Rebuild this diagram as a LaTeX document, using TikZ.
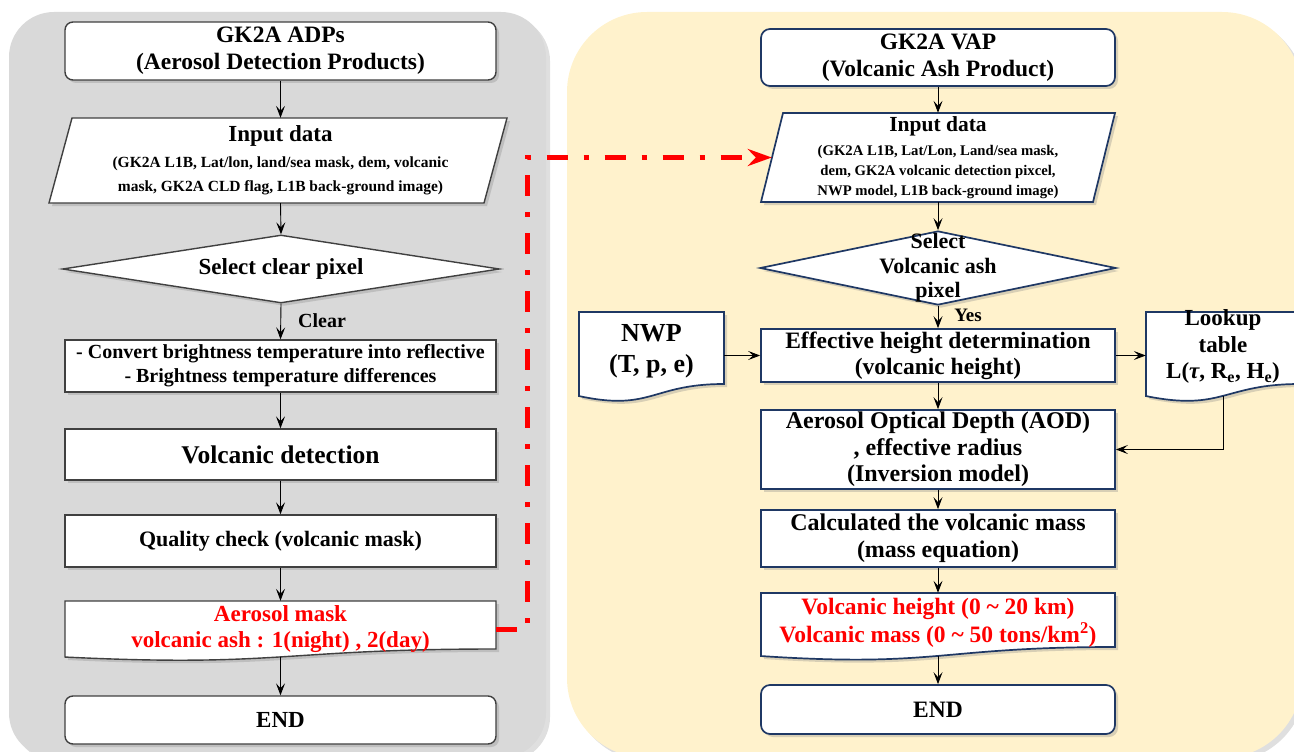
\documentclass[tikz,border=0pt]{standalone}
\usepackage{fontspec}
\setmainfont{Liberation Serif}
\usetikzlibrary{arrows.meta,shapes.geometric,shadows,calc}
\definecolor{panelgray}{HTML}{D9D9D9}
\definecolor{panelcream}{HTML}{FFF2CC}
\definecolor{navy}{HTML}{1F3864}
\definecolor{lgray}{HTML}{404040}
\newcommand\fs[2]{\fontsize{#1}{#2}\selectfont}
\newcommand\lift[2]{\raisebox{#1}[\height][\depth]{\begin{tabular}{@{}c@{}}#2\end{tabular}}}
% document shape: left, top, right, H, style
\newcommand\docshape[5]{%
  \draw[#5] (#1,#2) -- (#3,#2) -- (#3,{#2+0.8*#4})
    .. controls ({(#1+#3)/2},{#2+0.8*#4}) and ({(#1+#3)/2},{#2+1.107*#4}) .. (#1,{#2+0.934*#4}) -- cycle;}
\begin{document}
\begin{tikzpicture}[x=1pt,y=-1pt,
  ds/.style={drop shadow={opacity=0.3,shadow xshift=3pt,shadow yshift=-3pt}},
  flow/.style={draw=black,line width=0.9pt,-{Stealth[length=12pt,width=9pt,inset=5pt]}},
  redflow/.style={draw=red,line width=5pt,dash pattern=on 21pt off 16pt on 5pt off 16pt,
     -{Stealth[length=24pt,width=17pt,inset=8pt]}},
  lpath/.style={draw=lgray,line width=1.4pt,fill=white,ds},
  rpath/.style={draw=navy,line width=1.7pt,fill=white,ds},
  lbox/.style={lpath,minimum width=431pt,inner sep=0pt,align=center},
  rbox/.style={rpath,minimum width=354pt,inner sep=0pt,align=center},
  free/.style={draw=none,fill=none,inner sep=0pt,align=center}]
\clip (0,0) rectangle (1294,752);
% panels
\path[fill=panelgray,rounded corners=45pt,drop shadow={opacity=0.25,shadow xshift=4pt,shadow yshift=-4pt}] (9,12) rectangle (546,758);
\path[fill=panelcream,rounded corners=80pt,drop shadow={opacity=0.25,shadow xshift=4pt,shadow yshift=-4pt}] (567,12) rectangle (1302,758);

% ---------------- left column ----------------
\node[lbox,rounded corners=8pt,minimum height=58pt,font=\bfseries\fs{23.5}{27}] (adp) at (280.5,51)
  {GK2A ADPs\\(Aerosol Detection Products)};
\draw[lpath] (72,118) -- (507,118) -- (484,203) -- (49,203) -- cycle;
\node[free,minimum width=431pt,minimum height=85pt,font=\bfseries\fs{15.5}{24}] (in1) at (280.5,160.5)
  {{\fs{23}{26}Input data}\\[2pt](GK2A L1B, Lat/lon, land/sea mask, dem, volcanic\\mask, GK2A CLD flag, L1B back-ground image)};
\node[diamond,draw=lgray,line width=1.4pt,fill=white,ds,minimum width=437pt,minimum height=68pt,
  aspect=6.4,inner sep=0pt,font=\bfseries\fs{23}{26}] (sel1) at (281,269) {Select clear pixel};
\node[inner sep=0pt,font=\bfseries\fs{20}{24}] (clr) at (322,321) {Clear};
\node[lbox,minimum height=52pt,font=\bfseries\fs{20}{24}] (conv) at (280.5,366)
  {- Convert brightness temperature into reflective\\- Brightness temperature differences};
\node[lbox,minimum height=51pt,font=\bfseries\fs{25.5}{28}] (det) at (280.5,454.5) {Volcanic detection};
\node[lbox,minimum height=52pt,font=\bfseries\fs{22}{26}] (qual) at (280.5,541) {Quality check (volcanic mask)};
\docshape{65}{601}{496}{60}{lpath}
\node[free,minimum width=431pt,minimum height=56pt,text=red,font=\bfseries\fs{23}{26}] (mask) at (280.5,629)
  {\lift{0pt}{Aerosol mask\\volcanic ash : 1(night) , 2(day)}};
\node[lbox,rounded corners=8pt,minimum height=48pt,font=\bfseries\fs{23}{26}] (end1) at (280.5,720) {END};

\draw[flow] (adp.south) -- (in1.north);
\draw[flow] (in1.south) -- (sel1.north);
\draw[flow] (sel1.south) -- (conv.north);
\draw[flow] (conv.south) -- (det.north);
\draw[flow] (det.south) -- (qual.north);
\draw[flow] (qual.south) -- (mask.north);
\draw[flow] (mask.south) -- (end1.north);

% ---------------- right column ----------------
\node[rbox,rounded corners=9pt,minimum height=57pt,font=\bfseries\fs{23.5}{27}] (vap) at (938,57.5)
  {GK2A VAP\\(Volcanic Ash Product)};
\draw[rpath] (783,113) -- (1115,113) -- (1093,202) -- (761,202) -- cycle;
\node[free,minimum width=354pt,minimum height=89pt,font=\bfseries\fs{14.7}{20}] (in2) at (938,157.5)
  {{\fs{21.5}{26}Input data}\\[4pt](GK2A L1B, Lat/Lon, Land/sea mask,\\dem, GK2A volcanic detection pixcel,\\NWP model, L1B back-ground image)};
\node[diamond,draw=navy,line width=1.7pt,fill=white,ds,minimum width=356pt,minimum height=74pt,
  aspect=4.8,inner sep=0pt,
  label={[font=\bfseries\fs{22}{24.5},align=center]center:Select\\Volcanic ash\\pixel}] (sel2) at (938,268) {};
\node[inner sep=0pt,font=\bfseries\fs{19}{22}] (yes) at (968,315) {Yes};
\node[rbox,minimum height=53pt,font=\bfseries\fs{23.5}{26}] (eff) at (938,355.5)
  {Effective height determination\\(volcanic height)};
\docshape{579}{312}{724}{90}{rpath}
\node[free,minimum width=145pt,minimum height=84pt,font=\bfseries\fs{26}{31}] (nwp) at (651.5,354)
  {\lift{3.5pt}{NWP\\(T, p, e)}};
\docshape{1146}{312}{1300}{90}{rpath}
\node[free,minimum width=154pt,minimum height=84pt,font=\bfseries\fs{23}{26.5}] (lut) at (1223,354)
  {\lift{7pt}{Lookup\\table\\L({\itshape τ}, R\textsubscript{e}, H\textsubscript{e})}};
\node[rbox,minimum height=79pt,font=\bfseries\fs{24}{26.5}] (aod) at (938,449.5)
  {Aerosol Optical Depth (AOD)\\, effective radius\\(Inversion model)};
\node[rbox,minimum height=57pt,font=\bfseries\fs{24}{27}] (calc) at (938,538.5)
  {Calculated the volcanic mass\\(mass equation)};
\docshape{761}{593}{1115}{67.5}{rpath}
\node[free,minimum width=354pt,minimum height=63pt,text=red,font=\bfseries\fs{23.5}{27}] (out) at (938,624.5)
  {\lift{1pt}{Volcanic height (0 \textasciitilde{} 20 km)\\Volcanic mass (0 \textasciitilde{} 50 tons/km\textsuperscript{2})}};
\node[rbox,rounded corners=9pt,minimum height=49pt,font=\bfseries\fs{23.5}{26}] (end2) at (938,709.5) {END};

\draw[flow] (vap.south) -- (in2.north);
\draw[flow] (in2.south) -- (sel2.north);
\draw[flow] (sel2.south) -- (eff.north);
\draw[flow] (nwp.east |- eff.west) -- (eff.west);
\draw[flow] (eff.east) -- (eff.east -| lut.west);
\draw[flow] (eff.south) -- (aod.north);
\draw[flow] (lut.south) |- (aod.east);
\draw[flow] (aod.south) -- (calc.north);
\draw[flow] (calc.south) -- (out.north);
\draw[flow] (out.south) -- (end2.north);

% ---------------- red link ----------------
\coordinate (rc) at (527,157.5);
\draw[redflow] (mask.east) -| (rc) -- ([xshift=11pt]in2.west);
\end{tikzpicture}
\end{document}
